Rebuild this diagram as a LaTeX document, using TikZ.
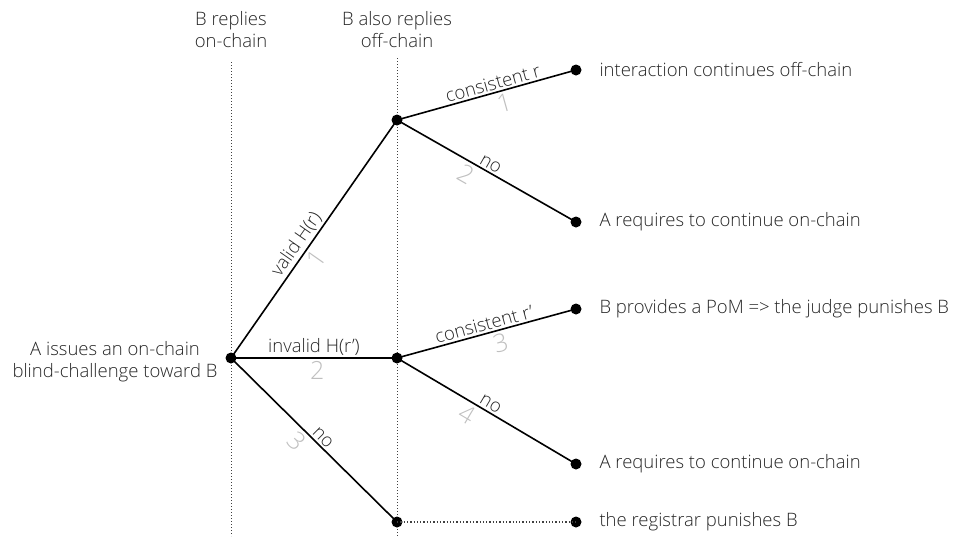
\documentclass[tikz,border=0pt]{standalone}
\usepackage{fontspec}
\setmainfont{Open Sans}[UprightFont=* Light]
\begin{document}
\begin{tikzpicture}[x=1pt,y=-1pt,
  dot/.style={circle,fill=black,inner sep=0pt,minimum size=11pt},
  branch/.style={line width=1.6pt},
  guide/.style={dotted,line width=1pt,black!75},
  lbl/.style={font=\fontsize{18.5}{20}\selectfont,text=black!85,sloped,above,inner sep=2pt},
  num/.style={font=\fontsize{25}{26}\selectfont,text=black!25,sloped,below,inner sep=3pt},
  leaf/.style={anchor=west,font=\fontsize{18.5}{22}\selectfont,text=black!85},
  head/.style={align=center,font=\fontsize{18.5}{22}\selectfont,text=black!85}]
\useasboundingbox (0,0) rectangle (956,536);

% column headers and guide lines
\node[head] (h1) at (231,30) {B replies\\on-chain};
\node[head] (h2) at (397,30) {B also replies\\off-chain};
\coordinate (g1t) at (231,62);
\coordinate (g1b) at (231,536);
\coordinate (g2t) at (397,58);
\coordinate (g2b) at (397,536);
\draw[guide] (g1t) -- (g1b);
\draw[guide] (g2t) -- (g2b);

% tree nodes
\node[dot] (a) at (231,358) {};
\node[dot] (p1) at (397,120) {};
\node[dot] (p2) at (397,358) {};
\node[dot] (p3) at (397,522) {};
\node[dot] (l1) at (576,70) {};
\node[dot] (l2) at (576,222) {};
\node[dot] (l3) at (576,309) {};
\node[dot] (l4) at (576,464) {};
\node[dot] (l5) at (576,522) {};

% texts
\node[head,anchor=east] (root) at (221,362) {A issues an on-chain\\blind-challenge toward B};
\node[leaf] (t1) at (596,70) {interaction continues off-chain};
\node[leaf] (t2) at (596,222) {A requires to continue on-chain};
\node[leaf] (t3) at (596,309) {B provides a PoM => the judge punishes B};
\node[leaf] (t4) at (596,464) {A requires to continue on-chain};
\node[leaf] (t5) at (596,522) {the registrar punishes B};

% branches
\draw[branch] (a.center) -- node[lbl,pos=0.45] {valid H(r)} node[num,pos=0.45] {1} (p1.center);
\draw[branch] (a.center) -- node[lbl] {invalid H(r')} node[num,pos=0.52] {2} (p2.center);
\draw[branch] (a.center) -- node[lbl,pos=0.52] {no} node[num,pos=0.45] {3} (p3.center);
\draw[branch] (p1.center) -- node[lbl,pos=0.55] {consistent r} node[num,pos=0.58] {1} (l1.center);
\draw[branch] (p1.center) -- node[lbl,pos=0.5] {no} node[num,pos=0.42] {2} (l2.center);
\draw[branch] (p2.center) -- node[lbl,pos=0.5] {consistent r'} node[num,pos=0.56] {3} (l3.center);
\draw[branch] (p2.center) -- node[lbl,pos=0.5] {no} node[num,pos=0.43] {4} (l4.center);
\draw[guide,line width=1.3pt] (p3.center) -- (l5.center);
\end{tikzpicture}
\end{document}
